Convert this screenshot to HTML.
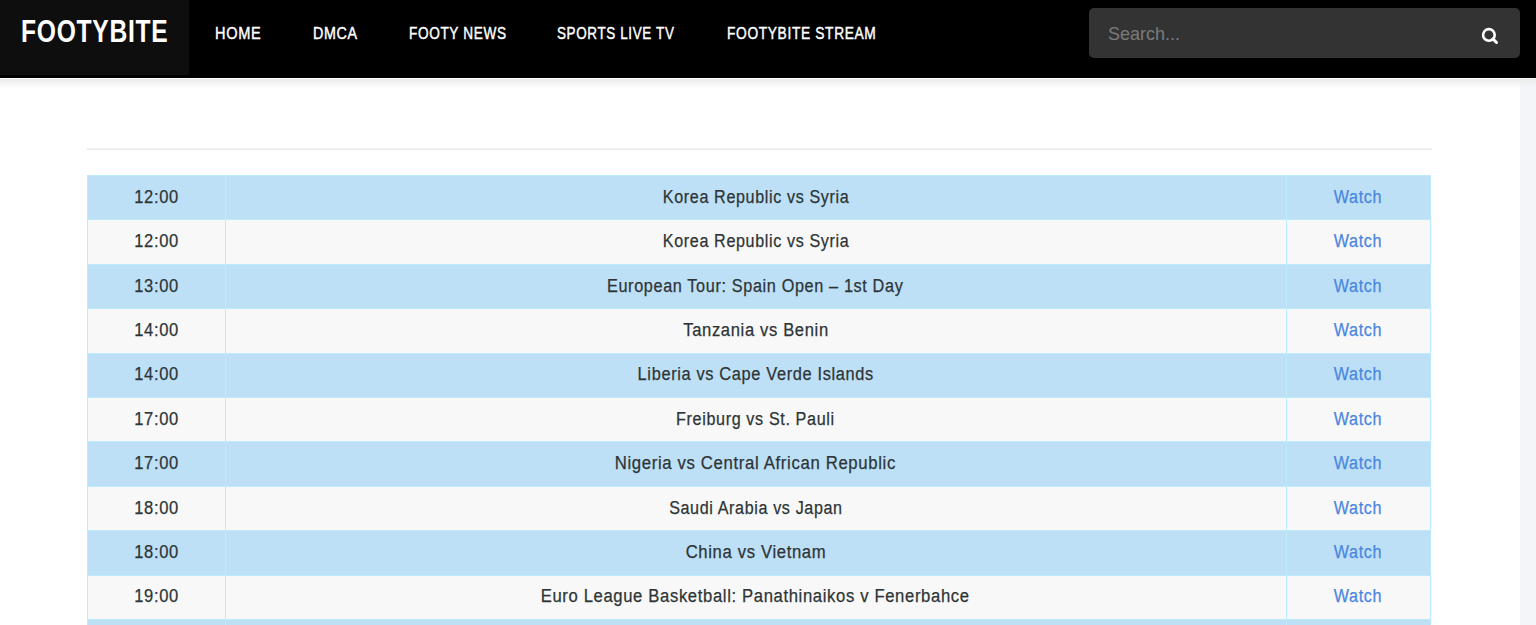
<!DOCTYPE html>
<html><head><meta charset="utf-8"><title>Footybite</title>
<style>
*{box-sizing:border-box;margin:0;padding:0}
html,body{width:1536px;height:625px;overflow:hidden;background:#fff;font-family:"Liberation Sans",sans-serif}
.hdr{position:absolute;left:0;top:0;width:1536px;height:78.4px;background:#000}
.shadow{position:absolute;left:0;top:79.4px;width:1536px;height:9px;background:linear-gradient(#ebebeb,rgba(255,255,255,0))}
.logo{position:absolute;left:0;top:0;width:189px;height:75px;background:#0e0e0e}
.logo span{position:absolute;left:20.8px;top:14px;color:#fff;font-weight:bold;font-size:30.6px;letter-spacing:0.9px;line-height:34px;white-space:nowrap;transform-origin:0 0;transform:scaleX(0.805)}
.nav a{position:absolute;top:24.3px;color:#fff;font-weight:normal;font-size:17px;letter-spacing:0.8px;-webkit-text-stroke:0.45px #fff;transform-origin:0 0;line-height:20px;text-decoration:none;white-space:nowrap}
.search{position:absolute;left:1089px;top:7.5px;width:431px;height:50.5px;background:#333;border-radius:5px}
.search span{position:absolute;left:18.5px;top:15px;transform-origin:0 0;transform:scaleX(0.972);color:#7b7b7b;font-size:18.5px;line-height:22px;white-space:nowrap}
.search svg{position:absolute;left:391px;top:18.5px}
.strip{position:absolute;left:1520px;top:78.4px;width:16px;height:547px;background:#f3f5f9}
.line{position:absolute;left:87px;top:148px;width:1344.5px;height:2px;background:linear-gradient(#eff0f5,#eaecf2)}
.tbl{position:absolute;left:87px;top:175px;width:1344px;border-top:1px solid #bcecf9}
.row{position:relative;height:44.41px;letter-spacing:0.7px;border-left:1px solid #bcecf9;border-right:1px solid #bcecf9;border-bottom:1px solid #bcecf9;color:#2d3436;font-size:18px}
.row.b{background:#bde0f7}
.row.w{background:#f8f8f8}
.row div{position:absolute;top:0;height:100%;display:flex;align-items:center;justify-content:center;white-space:nowrap}
.c1{left:0;width:137.6px;border-right:1px solid #bcecf9}
.c2{left:137.6px;width:1061px;border-right:1px solid #bcecf9}
.c3{left:1198.6px;width:143.4px;color:#4a86e0}
.row span{display:inline-block;position:relative;top:-0.5px;-webkit-text-stroke:0.25px currentColor}
</style></head><body>
<div class="hdr"></div>
<div class="strip"></div>
<div class="shadow"></div>
<div class="logo"><span>FOOTYBITE</span></div>
<div class="nav">
<a style="left:214.5px;transform:scaleX(0.8566)">HOME</a>
<a style="left:312.6px;transform:scaleX(0.8415)">DMCA</a>
<a style="left:408.9px;transform:scaleX(0.8008)">FOOTY NEWS</a>
<a style="left:557.1px;transform:scaleX(0.7913)">SPORTS LIVE TV</a>
<a style="left:727.0px;transform:scaleX(0.8093)">FOOTYBITE STREAM</a>
</div>
<div class="search"><span>Search...</span>
<svg width="20" height="20" viewBox="0 0 20 20"><circle cx="8.9" cy="8.9" r="5.8" fill="none" stroke="#fff" stroke-width="2.6"/><line x1="13" y1="13.1" x2="16.5" y2="16.5" stroke="#fff" stroke-width="3" stroke-linecap="round"/></svg>
</div>
<div class="line"></div>
<div class="tbl">
<div class="row b"><div class="c1"><span style="transform:translateX(0.3px) scaleX(0.9191)">12:00</span></div><div class="c2"><span style="transform:translateX(0px) scaleX(0.8957)">Korea Republic vs Syria</span></div><div class="c3"><span style="transform:scaleX(0.8962)">Watch</span></div></div>
<div class="row w"><div class="c1"><span style="transform:translateX(0.3px) scaleX(0.9191)">12:00</span></div><div class="c2"><span style="transform:translateX(0px) scaleX(0.8957)">Korea Republic vs Syria</span></div><div class="c3"><span style="transform:scaleX(0.8962)">Watch</span></div></div>
<div class="row b"><div class="c1"><span style="transform:translateX(0.3px) scaleX(0.9191)">13:00</span></div><div class="c2"><span style="transform:translateX(0px) scaleX(0.9028)">European Tour: Spain Open – 1st Day</span></div><div class="c3"><span style="transform:scaleX(0.8962)">Watch</span></div></div>
<div class="row w"><div class="c1"><span style="transform:translateX(0.3px) scaleX(0.9191)">14:00</span></div><div class="c2"><span style="transform:translateX(0px) scaleX(0.921)">Tanzania vs Benin</span></div><div class="c3"><span style="transform:scaleX(0.8962)">Watch</span></div></div>
<div class="row b"><div class="c1"><span style="transform:translateX(0.3px) scaleX(0.9191)">14:00</span></div><div class="c2"><span style="transform:translateX(0px) scaleX(0.9105)">Liberia vs Cape Verde Islands</span></div><div class="c3"><span style="transform:scaleX(0.8962)">Watch</span></div></div>
<div class="row w"><div class="c1"><span style="transform:translateX(0.3px) scaleX(0.9191)">17:00</span></div><div class="c2"><span style="transform:translateX(0px) scaleX(0.8971)">Freiburg vs St. Pauli</span></div><div class="c3"><span style="transform:scaleX(0.8962)">Watch</span></div></div>
<div class="row b"><div class="c1"><span style="transform:translateX(0.3px) scaleX(0.9191)">17:00</span></div><div class="c2"><span style="transform:translateX(0px) scaleX(0.9296)">Nigeria vs Central African Republic</span></div><div class="c3"><span style="transform:scaleX(0.8962)">Watch</span></div></div>
<div class="row w"><div class="c1"><span style="transform:translateX(0.3px) scaleX(0.9191)">18:00</span></div><div class="c2"><span style="transform:translateX(0px) scaleX(0.8953)">Saudi Arabia vs Japan</span></div><div class="c3"><span style="transform:scaleX(0.8962)">Watch</span></div></div>
<div class="row b"><div class="c1"><span style="transform:translateX(0.3px) scaleX(0.9191)">18:00</span></div><div class="c2"><span style="transform:translateX(0px) scaleX(0.9253)">China vs Vietnam</span></div><div class="c3"><span style="transform:scaleX(0.8962)">Watch</span></div></div>
<div class="row w"><div class="c1"><span style="transform:translateX(0.3px) scaleX(0.9191)">19:00</span></div><div class="c2"><span style="transform:translateX(0px) scaleX(0.924)">Euro League Basketball: Panathinaikos v Fenerbahce</span></div><div class="c3"><span style="transform:scaleX(0.8962)">Watch</span></div></div>
<div class="row b"><div class="c1"></div><div class="c2"></div><div class="c3"></div></div>
</div>
</body></html>
